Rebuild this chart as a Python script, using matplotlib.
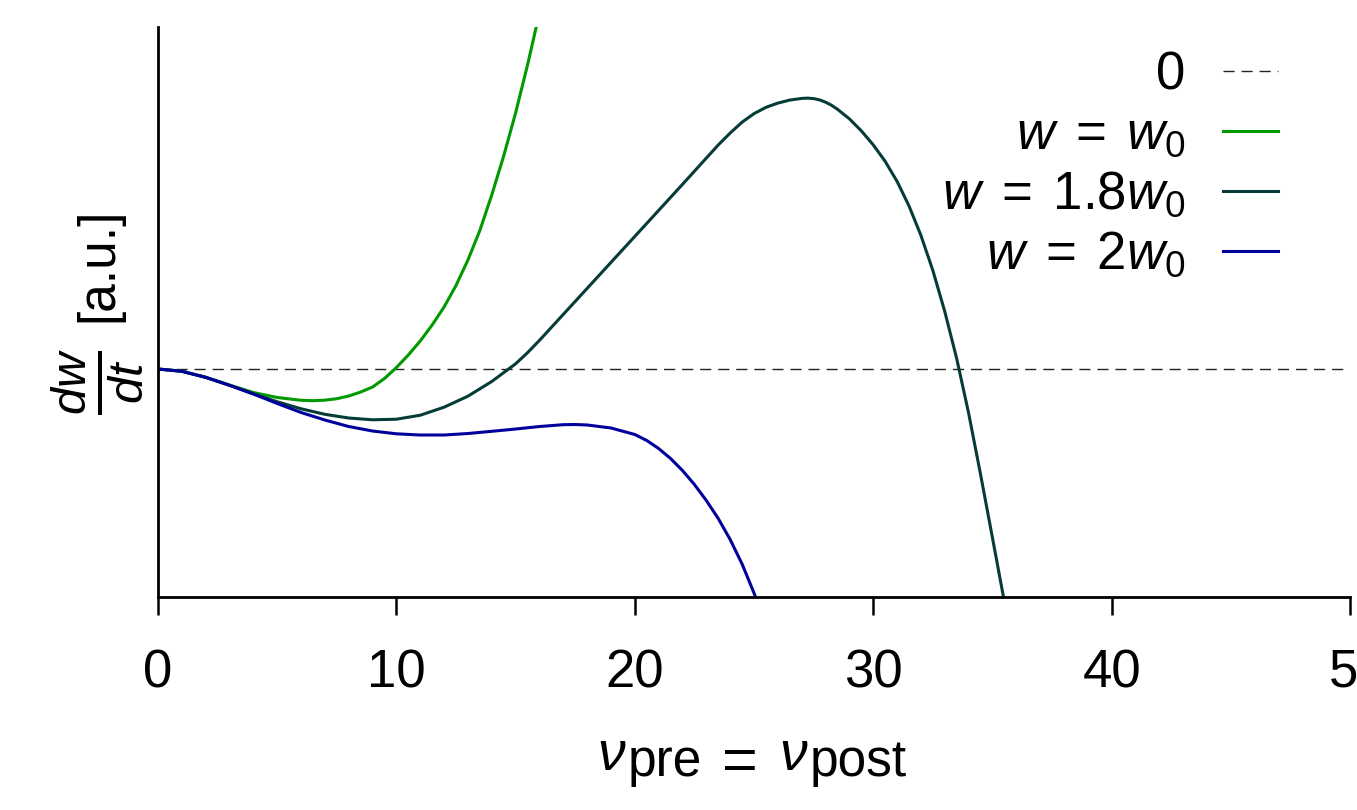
import matplotlib
matplotlib.use("Agg")
import matplotlib.pyplot as plt
from matplotlib.transforms import ScaledTranslation, IdentityTransform

plt.rcParams['font.family'] = ['Liberation Sans', 'DejaVu Sans']
plt.rcParams['mathtext.fontset'] = 'custom'
plt.rcParams['mathtext.rm'] = 'Liberation Sans'
plt.rcParams['mathtext.it'] = 'Liberation Sans:italic'
plt.rcParams['mathtext.bf'] = 'Liberation Sans:bold'

# firing rate nu_pre = nu_post and weight change dw/dt (arbitrary units)
nu_zero = [0, 50]
dw_zero = [0, 0]

nu_w1 = [0, 1, 2, 3, 4, 5, 6, 6.5, 7, 7.5, 8, 8.5, 9, 9.5, 10, 10.5, 11, 11.5,
         12, 12.5, 13, 13.5, 14, 14.5, 15, 15.5, 16, 16.3]
dw_w1 = [0, -0.040, -0.146, -0.281, -0.412, -0.500, -0.549, -0.556, -0.547,
         -0.521, -0.474, -0.404, -0.316, -0.167, 0.026, 0.246, 0.491, 0.772,
         1.088, 1.465, 1.912, 2.430, 3.053, 3.737, 4.491, 5.333, 6.246, 6.825]

nu_w18 = [0, 1, 2, 3, 4, 5, 6, 7, 8, 9, 10, 11, 12, 13, 14, 15, 15.5, 16, 16.5,
          17, 18, 19, 20, 21, 22, 23, 23.5, 24, 24.5, 25, 25.5, 26, 26.5, 27,
          27.25, 27.5, 27.75, 28, 28.25, 28.5, 29, 29.5, 30, 30.5, 31, 31.5, 32,
          32.5, 33, 33.5, 34, 34.5, 35, 35.5, 35.8]
dw_w18 = [0, -0.040, -0.146, -0.286, -0.435, -0.575, -0.698, -0.795, -0.860,
          -0.891, -0.881, -0.811, -0.670, -0.477, -0.219, 0.091, 0.286, 0.502,
          0.730, 0.958, 1.414, 1.870, 2.326, 2.782, 3.239, 3.700, 3.930, 4.140,
          4.330, 4.480, 4.590, 4.665, 4.718, 4.747, 4.752, 4.744, 4.721, 4.682,
          4.627, 4.557, 4.389, 4.179, 3.933, 3.644, 3.293, 2.863, 2.346, 1.732,
          1.012, 0.187, -0.769, -1.842, -2.956, -4.079, -4.754]

nu_w2 = [0, 1, 2, 3, 4, 5, 6, 7, 8, 9, 10, 11, 12, 13, 14, 15, 16, 17, 17.5, 18,
         19, 20, 20.5, 21, 21.5, 22, 22.5, 23, 23.5, 24, 24.5, 25, 25.5]
dw_w2 = [0, -0.040, -0.146, -0.286, -0.439, -0.605, -0.763, -0.895, -1.009,
         -1.088, -1.137, -1.158, -1.158, -1.132, -1.093, -1.053, -1.009, -0.977,
         -0.974, -0.982, -1.035, -1.149, -1.254, -1.395, -1.570, -1.781, -2.026,
         -2.307, -2.623, -2.991, -3.421, -3.930, -4.491]

xticks = [0, 10, 20, 30, 40, 50]
xtick_labels = ['0', '10', '20', '30', '40', '50']

W, H = 1357, 810
fig = plt.figure(figsize=(W / 100, H / 100), dpi=100)
ax = fig.add_axes([158 / W, 1 - 597 / H, (1350 - 158) / W, (597 - 27) / H])

ax.plot(nu_zero, dw_zero, color='#222222', lw=1.0, dashes=(8, 5), label='0')
ax.plot(nu_w1, dw_w1, color='#009a00', lw=2.2, label=r'$w\;=\;w_0$')
ax.plot(nu_w18, dw_w18, color='#063c38', lw=2.2, label=r'$w\;=\;1.8w_0$')
ax.plot(nu_w2, dw_w2, color='#00009c', lw=2.2, label=r'$w\;=\;2w_0$')

ax.set_xlim(0, 50)
ax.set_ylim(-4, 6)
ax.set_xticks(xticks)
ax.set_xticklabels(xtick_labels)
ax.set_yticks([])
ax.tick_params(axis='x', direction='out', length=13, width=1.8, labelsize=38, pad=24)

# the last label sits against the right edge of the figure
last = ax.xaxis.get_major_ticks()[-1].label1
last.set_transform(last.get_transform() + ScaledTranslation(8 / 100, 0, fig.dpi_scale_trans))

for side in ('top', 'right'):
    ax.spines[side].set_visible(False)
for side in ('left', 'bottom'):
    ax.spines[side].set_linewidth(2.0)

ax.legend(loc='upper right', bbox_to_anchor=((1278 - 158) / 1192, (597 - 50) / 570),
          frameon=False, markerfirst=False, fontsize=38, borderpad=0,
          borderaxespad=0, handlelength=1.05, handletextpad=0.7,
          labelspacing=0.19)

# y label: large fraction followed by the unit
px = IdentityTransform()
fig.text(97, H - 382, r'$\frac{dw}{dt}$', fontsize=50, rotation=90,
         ha='center', va='center', transform=px)
fig.text(99, H - 265, '[a.u.]', fontsize=37, rotation=90,
         ha='center', va='center', transform=px)

# x label: rates with full-size subscripts, laid out piece by piece
renderer = fig.canvas.get_renderer()
pieces = [  # text, size, vertical shift (px), gap after (px)
    (r'$\nu$', 40, 0, 1),
    ('pre', 37, -6, 20),
    ('=', 44, -10, 22),
    (r'$\nu$', 40, 0, 1),
    ('post', 37, -6, 0),
]
baseline = H - 770
items = []
for s, size, dy, gap in pieces:
    t = fig.text(0, 0, s, fontsize=size, ha='left', va='baseline', transform=px)
    items.append((t, t.get_window_extent(renderer).width, dy, gap))
total = sum(w + g for _, w, _, g in items)
x = 752 - total / 2
for t, w, dy, gap in items:
    t.set_position((x, baseline + dy))
    x += w + gap

fig.savefig('out.png', dpi=100)
